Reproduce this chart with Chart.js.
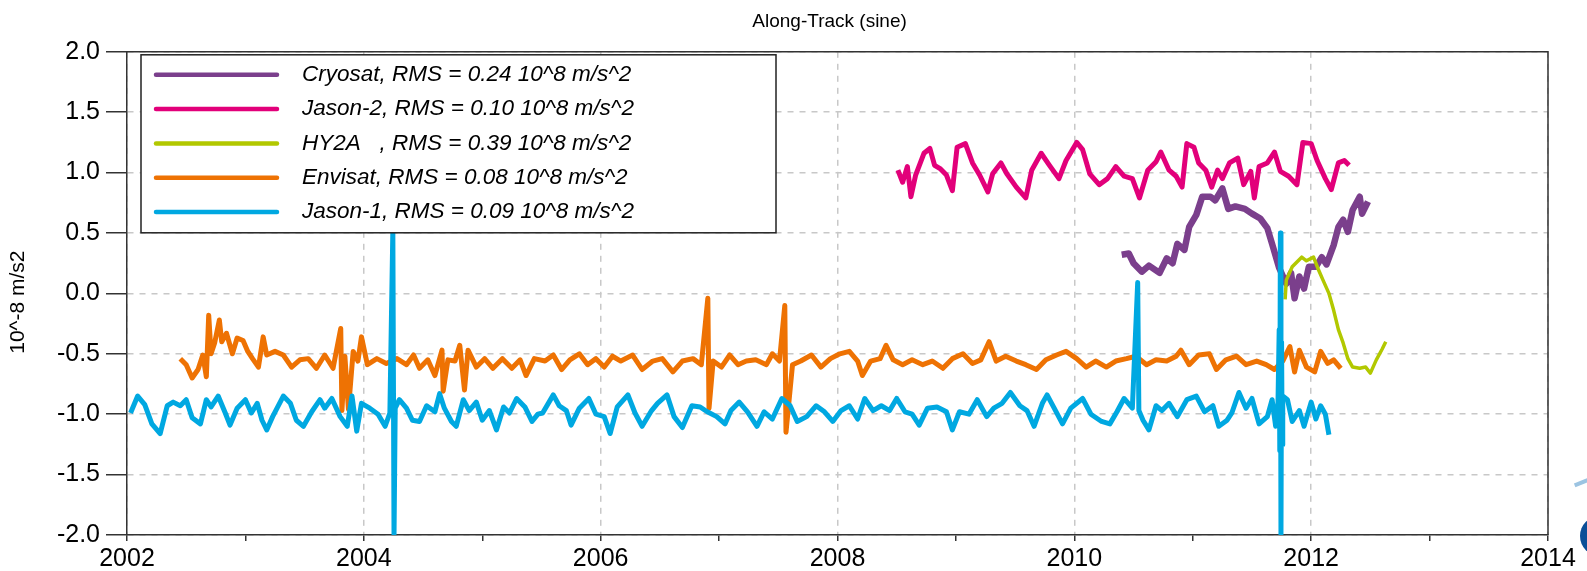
<!DOCTYPE html>
<html>
<head>
<meta charset="utf-8">
<script src="https://cdn.jsdelivr.net/npm/chart.js@4/dist/chart.umd.min.js"></script>
<style>
  body { margin: 0; background: #fff; }
  #wrap { position: relative; width: 1587px; height: 571px; overflow: hidden; }
  .logoArc { position: absolute; left: 1574px; top: 480px; width: 18px; height: 4px; background: #9cc4e2; transform: rotate(-22deg); }
  .logoDot { position: absolute; left: 1580px; top: 516px; width: 40px; height: 40px; border-radius: 50%; background: #0b4f98; }
</style>
</head>
<body>
<div id="wrap">
  <canvas id="theChart" width="1587" height="571"></canvas>
  <div class="logoArc"></div>
  <div class="logoDot"></div>
</div>
<script>
let ctx = document.getElementById("theChart").getContext("2d");

const fontFamily = "'Liberation Sans', Arial, sans-serif";
const chartTitle = "Along-Track (sine)";
const yTitle = "10^-8 m/s2";
const xTicks = [2002, 2004, 2006, 2008, 2010, 2012, 2014];

// Cryosat
const cryoYears = [2010.40, 2010.46, 2010.50, 2010.57, 2010.63, 2010.72, 2010.78, 2010.83, 2010.87, 2010.93,
  2010.97, 2011.03, 2011.08, 2011.15, 2011.19, 2011.25, 2011.30, 2011.36, 2011.44, 2011.50,
  2011.57, 2011.63, 2011.67, 2011.73, 2011.79, 2011.83, 2011.86, 2011.90, 2011.94, 2011.98,
  2012.04, 2012.09, 2012.13, 2012.19, 2012.23, 2012.27, 2012.31, 2012.35, 2012.41, 2012.43, 2012.48];
const cryoValues = [0.32, 0.33, 0.25, 0.18, 0.23, 0.17, 0.29, 0.25, 0.41, 0.36,
  0.55, 0.65, 0.80, 0.80, 0.77, 0.87, 0.70, 0.72, 0.70, 0.66,
  0.62, 0.54, 0.41, 0.21, 0.08, 0.17, -0.04, 0.14, 0.04, 0.22,
  0.22, 0.30, 0.24, 0.40, 0.55, 0.61, 0.51, 0.69, 0.80, 0.66, 0.76];

// Jason-2
const j2Years = [2008.51, 2008.55, 2008.59, 2008.62, 2008.66, 2008.73, 2008.78, 2008.82, 2008.87, 2008.92,
  2008.97, 2009.01, 2009.08, 2009.14, 2009.20, 2009.27, 2009.31, 2009.38, 2009.43, 2009.51,
  2009.59, 2009.64, 2009.72, 2009.79, 2009.87, 2009.93, 2010.02, 2010.07, 2010.13, 2010.21,
  2010.28, 2010.35, 2010.42, 2010.49, 2010.55, 2010.62, 2010.69, 2010.73, 2010.80, 2010.86,
  2010.91, 2010.95, 2011.01, 2011.05, 2011.11, 2011.16, 2011.21, 2011.25, 2011.31, 2011.38,
  2011.43, 2011.49, 2011.52, 2011.56, 2011.63, 2011.69, 2011.74, 2011.81, 2011.88, 2011.93,
  2012.00, 2012.05, 2012.12, 2012.17, 2012.23, 2012.28, 2012.32];
const j2Values = [1.02, 0.92, 1.05, 0.80, 0.98, 1.16, 1.20, 1.06, 1.03, 0.98,
  0.85, 1.21, 1.24, 1.08, 0.98, 0.84, 0.99, 1.08, 0.99, 0.88,
  0.79, 1.02, 1.16, 1.06, 0.95, 1.10, 1.25, 1.19, 0.99, 0.90,
  0.95, 1.05, 0.97, 0.95, 0.79, 1.02, 1.09, 1.17, 1.02, 0.97,
  0.88, 1.24, 1.21, 1.08, 1.02, 0.88, 1.02, 0.95, 1.08, 1.12,
  0.90, 1.01, 0.79, 1.05, 1.08, 1.17, 1.01, 0.97, 0.90, 1.25,
  1.24, 1.10, 0.95, 0.86, 1.08, 1.10, 1.06];

// HY2A
const hyYears = [2011.78, 2011.79, 2011.84, 2011.88, 2011.92, 2011.96, 2012.02, 2012.06, 2012.10, 2012.15,
  2012.19, 2012.23, 2012.27, 2012.31, 2012.35, 2012.41, 2012.46, 2012.50, 2012.55, 2012.60, 2012.63];
const hyValues = [-0.05, 0.11, 0.22, 0.26, 0.30, 0.27, 0.30, 0.20, 0.11, 0.00,
  -0.14, -0.30, -0.41, -0.54, -0.61, -0.62, -0.61, -0.66, -0.55, -0.46, -0.40];

// Envisat
const envYears = [2002.45, 2002.50, 2002.55, 2002.60, 2002.64, 2002.67, 2002.69, 2002.71, 2002.74, 2002.78,
  2002.80, 2002.84, 2002.89, 2002.93, 2002.98, 2003.02, 2003.06, 2003.11, 2003.15, 2003.18,
  2003.25, 2003.32, 2003.39, 2003.46, 2003.53, 2003.60, 2003.67, 2003.74, 2003.805, 2003.815,
  2003.84, 2003.87, 2003.91, 2003.95, 2003.98, 2004.03, 2004.11, 2004.19, 2004.28, 2004.36,
  2004.42, 2004.47, 2004.54, 2004.60, 2004.66, 2004.67, 2004.71, 2004.77, 2004.81, 2004.85,
  2004.88, 2004.95, 2005.02, 2005.09, 2005.17, 2005.25, 2005.32, 2005.37, 2005.44, 2005.53,
  2005.60, 2005.67, 2005.74, 2005.82, 2005.89, 2005.96, 2006.03, 2006.10, 2006.17, 2006.27,
  2006.35, 2006.44, 2006.52, 2006.61, 2006.69, 2006.78, 2006.85, 2006.905, 2006.915, 2006.95,
  2007.02, 2007.09, 2007.16, 2007.23, 2007.31, 2007.40, 2007.45, 2007.51, 2007.555, 2007.565,
  2007.62, 2007.69, 2007.78, 2007.86, 2007.94, 2008.02, 2008.10, 2008.17, 2008.21, 2008.28,
  2008.36, 2008.41, 2008.47, 2008.55, 2008.63, 2008.72, 2008.80, 2008.89, 2008.97, 2009.06,
  2009.14, 2009.21, 2009.28, 2009.34, 2009.42, 2009.51, 2009.59, 2009.68, 2009.76, 2009.85,
  2009.93, 2010.02, 2010.10, 2010.18, 2010.27, 2010.35, 2010.44, 2010.52, 2010.61, 2010.69,
  2010.78, 2010.86, 2010.90, 2010.97, 2011.05, 2011.14, 2011.20, 2011.28, 2011.37, 2011.45,
  2011.54, 2011.62, 2011.69, 2011.76, 2011.82, 2011.86, 2011.90, 2011.96, 2012.03, 2012.08,
  2012.14, 2012.19, 2012.25];
const envValues = [-0.54, -0.59, -0.70, -0.63, -0.51, -0.69, -0.18, -0.50, -0.41, -0.22,
  -0.40, -0.33, -0.50, -0.37, -0.39, -0.48, -0.54, -0.61, -0.36, -0.51,
  -0.48, -0.51, -0.61, -0.55, -0.54, -0.62, -0.51, -0.62, -0.29, -0.97,
  -0.52, -0.96, -0.48, -0.56, -0.36, -0.59, -0.54, -0.58, -0.54, -0.59,
  -0.51, -0.62, -0.55, -0.68, -0.47, -0.81, -0.55, -0.56, -0.43, -0.80,
  -0.47, -0.61, -0.54, -0.62, -0.54, -0.62, -0.55, -0.68, -0.54, -0.56,
  -0.51, -0.63, -0.55, -0.50, -0.59, -0.54, -0.61, -0.52, -0.56, -0.51,
  -0.63, -0.56, -0.54, -0.65, -0.56, -0.54, -0.59, -0.04, -0.95, -0.56,
  -0.61, -0.51, -0.59, -0.56, -0.55, -0.59, -0.50, -0.56, -0.10, -1.15,
  -0.59, -0.56, -0.51, -0.61, -0.54, -0.50, -0.48, -0.56, -0.68, -0.56,
  -0.54, -0.43, -0.55, -0.59, -0.55, -0.59, -0.56, -0.62, -0.54, -0.50,
  -0.58, -0.55, -0.40, -0.56, -0.52, -0.56, -0.59, -0.63, -0.55, -0.51,
  -0.48, -0.54, -0.61, -0.56, -0.61, -0.56, -0.54, -0.52, -0.59, -0.55,
  -0.56, -0.52, -0.47, -0.59, -0.51, -0.50, -0.63, -0.55, -0.52, -0.59,
  -0.56, -0.59, -0.63, -0.56, -0.44, -0.65, -0.47, -0.61, -0.65, -0.48,
  -0.58, -0.55, -0.62];

// Jason-1
const j1Years = [2002.03, 2002.09, 2002.15, 2002.21, 2002.28, 2002.34, 2002.39, 2002.45, 2002.50, 2002.55,
  2002.62, 2002.67, 2002.71, 2002.77, 2002.83, 2002.87, 2002.93, 2003.00, 2003.05, 2003.10,
  2003.14, 2003.18, 2003.23, 2003.32, 2003.38, 2003.43, 2003.49, 2003.56, 2003.63, 2003.67,
  2003.73, 2003.80, 2003.86, 2003.90, 2003.94, 2003.98, 2004.05, 2004.12, 2004.18, 2004.22,
  2004.245, 2004.255, 2004.265, 2004.30, 2004.36, 2004.41, 2004.47, 2004.53, 2004.60, 2004.64,
  2004.68, 2004.74, 2004.78, 2004.84, 2004.89, 2004.95, 2005.00, 2005.06, 2005.12, 2005.18,
  2005.23, 2005.29, 2005.36, 2005.42, 2005.47, 2005.51, 2005.60, 2005.65, 2005.71, 2005.75,
  2005.82, 2005.90, 2005.96, 2006.03, 2006.08, 2006.14, 2006.23, 2006.29, 2006.35, 2006.43,
  2006.48, 2006.56, 2006.62, 2006.69, 2006.77, 2006.84, 2006.90, 2006.98, 2007.05, 2007.10,
  2007.17, 2007.24, 2007.32, 2007.38, 2007.45, 2007.53, 2007.60, 2007.66, 2007.74, 2007.82,
  2007.89, 2007.96, 2008.03, 2008.10, 2008.17, 2008.23, 2008.30, 2008.37, 2008.44, 2008.50,
  2008.57, 2008.63, 2008.69, 2008.76, 2008.84, 2008.92, 2008.97, 2009.03, 2009.11, 2009.18,
  2009.26, 2009.32, 2009.39, 2009.46, 2009.54, 2009.60, 2009.66, 2009.73, 2009.77, 2009.83,
  2009.90, 2009.97, 2010.07, 2010.14, 2010.23, 2010.30, 2010.36, 2010.42, 2010.49, 2010.535,
  2010.545, 2010.58, 2010.63, 2010.69, 2010.74, 2010.80, 2010.87, 2010.95, 2011.03, 2011.10,
  2011.17, 2011.22, 2011.29, 2011.33, 2011.39, 2011.45, 2011.50, 2011.56, 2011.63, 2011.67,
  2011.70, 2011.72, 2011.73, 2011.735, 2011.74, 2011.745, 2011.75, 2011.755, 2011.76, 2011.80,
  2011.84, 2011.90, 2011.94, 2012.00, 2012.04, 2012.08, 2012.12, 2012.15];
const j1Values = [-0.99, -0.85, -0.92, -1.08, -1.16, -0.93, -0.90, -0.93, -0.88, -1.03,
  -1.08, -0.88, -0.94, -0.85, -0.99, -1.09, -0.95, -0.88, -0.99, -0.91,
  -1.05, -1.13, -1.02, -0.85, -0.91, -1.05, -1.10, -0.98, -0.88, -0.95,
  -0.87, -1.02, -1.10, -0.85, -1.14, -0.91, -0.95, -1.00, -1.10, -0.99,
  0.52, -2.00, -0.95, -0.88, -0.95, -1.05, -1.06, -0.93, -0.98, -0.83,
  -0.95, -1.06, -1.10, -0.88, -0.97, -0.90, -1.05, -0.97, -1.13, -0.94,
  -0.99, -0.87, -0.94, -1.06, -1.00, -0.99, -0.84, -0.93, -0.97, -1.09,
  -0.95, -0.87, -1.00, -1.02, -1.16, -0.94, -0.84, -0.99, -1.10, -0.97,
  -0.91, -0.84, -1.02, -1.11, -0.93, -0.94, -0.98, -1.02, -1.08, -0.97,
  -0.90, -0.98, -1.10, -0.98, -1.04, -0.87, -0.93, -1.06, -1.02, -0.93,
  -0.98, -1.06, -0.97, -0.93, -1.04, -0.87, -0.97, -0.93, -0.97, -0.87,
  -0.98, -1.00, -1.09, -0.95, -0.94, -0.98, -1.13, -0.98, -1.00, -0.88,
  -1.02, -0.95, -0.91, -0.82, -0.93, -0.97, -1.10, -0.91, -0.84, -0.95,
  -1.08, -0.95, -0.87, -1.00, -1.06, -1.08, -0.98, -0.87, -0.95, 0.09,
  -0.97, -1.05, -1.13, -0.93, -0.97, -0.91, -1.02, -0.88, -0.85, -0.98,
  -0.93, -1.10, -1.05, -0.99, -0.82, -0.95, -0.87, -1.08, -1.02, -0.88,
  -1.10, -0.90, -0.30, -1.30, 0.50, -2.00, -0.40, -1.25, -0.85, -0.88,
  -1.06, -0.97, -1.10, -0.90, -1.04, -0.93, -1.00, -1.17];

function points(years, values) {
  return years.map((yr, i) => ({ x: yr, y: values[i] }));
}

function series(label, years, values, color, width, order) {
  return {
    label: label,
    data: points(years, values),
    borderColor: color,
    backgroundColor: color,
    borderWidth: width,
    borderJoinStyle: "round",
    pointRadius: 0,
    tension: 0,
    order: order,
    clip: 0
  };
}

// plot frame + legend box in the upper left
const framePlugin = {
  id: "frameAndLegend",
  afterDatasetsDraw(chart) {
    const c = chart.ctx;
    const a = chart.chartArea;
    c.save();
    c.strokeStyle = "#333";
    c.lineWidth = 1.5;
    c.beginPath();
    c.moveTo(a.left, a.top);
    c.lineTo(a.right, a.top);
    c.lineTo(a.right, a.bottom);
    c.stroke();

    let bx = a.left + 14, by = a.top + 3, bw = 635, bh = 178;
    c.fillStyle = "#fff";
    c.fillRect(bx, by, bw, bh);
    c.strokeStyle = "#222";
    c.lineWidth = 1.5;
    c.strokeRect(bx, by, bw, bh);

    c.font = "italic 22.5px " + fontFamily;
    c.textBaseline = "middle";
    chart.data.datasets.forEach((ds, i) => {
      let yy = by + 20 + i * 34.3;
      c.strokeStyle = ds.borderColor;
      c.lineWidth = 4.5;
      c.lineCap = "round";
      c.beginPath();
      c.moveTo(bx + 15, yy);
      c.lineTo(bx + 136, yy);
      c.stroke();
      c.fillStyle = "#000";
      c.fillText(ds.label, bx + 161, yy);
    });
    c.restore();
  }
};

let currentChart = new Chart(ctx, {
  type: "line",
  data: {
    datasets: [
      series("Cryosat, RMS = 0.24 10^8 m/s^2", cryoYears, cryoValues, "#7b3f8c", 6.5, 4),
      series("Jason-2, RMS = 0.10 10^8 m/s^2", j2Years, j2Values, "#e2007a", 5, 3),
      series("HY2A   , RMS = 0.39 10^8 m/s^2", hyYears, hyValues, "#b2c800", 3.5, 1),
      series("Envisat, RMS = 0.08 10^8 m/s^2", envYears, envValues, "#ee7203", 5, 2),
      series("Jason-1, RMS = 0.09 10^8 m/s^2", j1Years, j1Values, "#00a8e1", 5, 0)
    ]
  },
  options: {
    responsive: false,
    animation: false,
    layout: { padding: { top: 0, left: 0, right: 39, bottom: 0 } },
    plugins: {
      legend: { display: false },
      tooltip: { enabled: false },
      title: {
        display: true,
        fullSize: false,   // centre over the plot area, not the whole canvas
        text: chartTitle + "   ",
        color: "#000",
        font: { family: fontFamily, size: 19, weight: "normal" },
        padding: { top: 10, bottom: 19 }
      }
    },
    scales: {
      x: {
        type: "linear",
        min: xTicks[0],
        max: xTicks[xTicks.length - 1],
        afterFit(scale) { scale.height = 36; },
        afterBuildTicks(scale) {
          // odd years get a tick mark but no label or grid line
          let t = [];
          for (let v = xTicks[0]; v <= xTicks[xTicks.length - 1]; v++) t.push({ value: v });
          scale.ticks = t;
        },
        ticks: {
          autoSkip: false,
          maxRotation: 0,
          padding: 3,
          color: "#000",
          font: { family: fontFamily, size: 25 },
          callback: (v) => (xTicks.includes(v) ? String(v) : "")
        },
        grid: {
          color: (c) => (c.tick && xTicks.includes(c.tick.value) ? "#c8c8c8" : "rgba(0,0,0,0)"),
          lineWidth: 1.5,
          tickColor: "#333",
          tickLength: 6
        },
        border: { color: "#333", width: 1.5, dash: [6, 6] }
      },
      y: {
        min: -2,
        max: 2,
        afterFit(scale) { scale.width = 127; },
        ticks: {
          stepSize: 0.5,
          padding: 6,
          color: "#000",
          font: { family: fontFamily, size: 25 },
          callback: (v) => v.toFixed(1)
        },
        grid: {
          color: "#c8c8c8",
          lineWidth: 1.5,
          tickColor: "#333",
          tickLength: 21
        },
        border: { color: "#333", width: 1.5, dash: [6, 6] },
        title: {
          display: true,
          // trailing spaces nudge the rotated label a little lower, as in the original
          text: yTitle + "   ",
          color: "#000",
          font: { family: fontFamily, size: 21 },
          padding: { top: 6, bottom: 0 }
        }
      }
    }
  },
  plugins: [framePlugin]
});
</script>
</body>
</html>
